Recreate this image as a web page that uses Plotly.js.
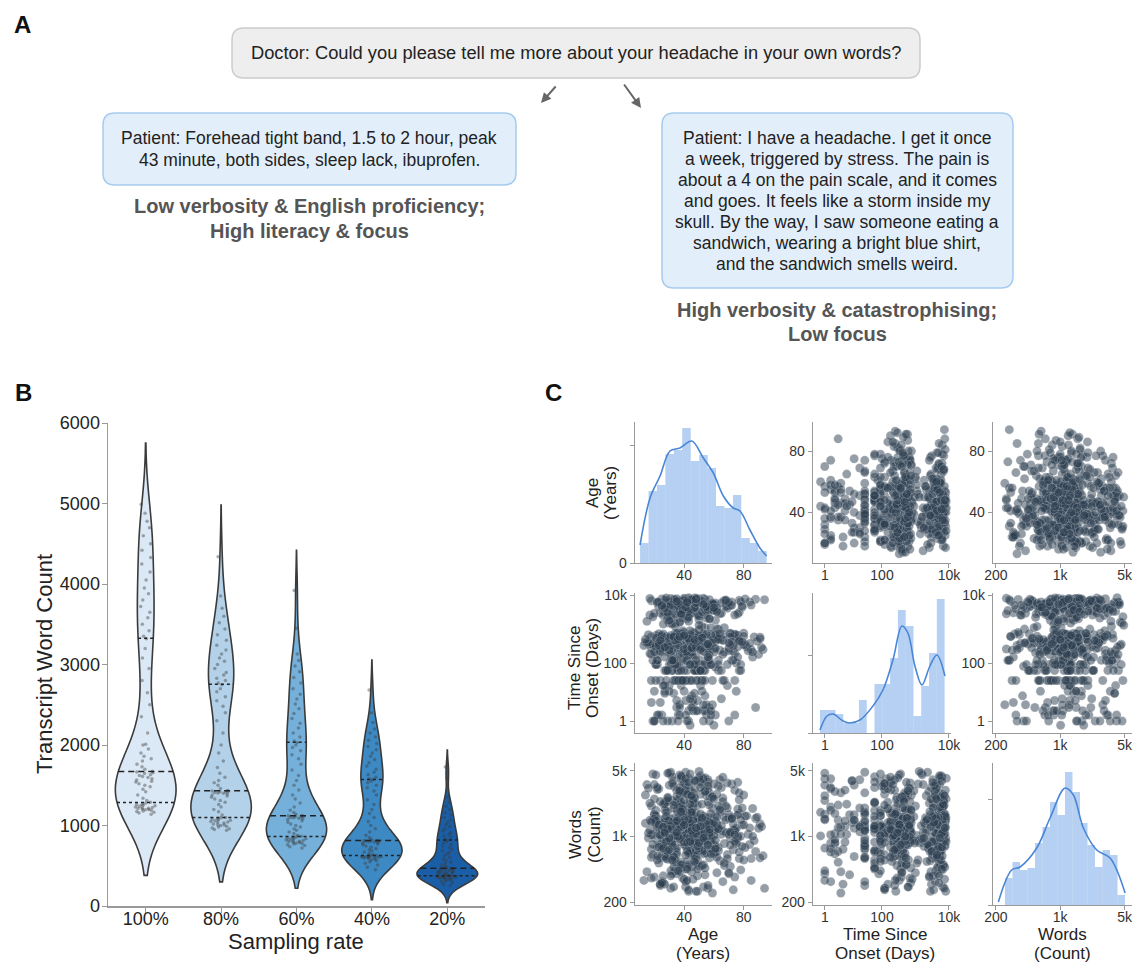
<!DOCTYPE html>
<html><head><meta charset="utf-8">
<script src="https://cdn.plot.ly/plotly-3.0.1.min.js"></script>
<style>html,body{margin:0;padding:0;background:#fff}#chart{width:1134px;height:962px}</style>
</head><body><div id="chart"></div>
<script>
// ================= DATA =================
// Panel B: transcript word counts per sampling rate
const samplingRates = ['100%', '80%', '60%', '40%', '20%'];
const wordsAt100 = [1140,1155,1165,1175,1180,1190,1195,1200,1205,1210,1215,1220,1225,1230,1240,1245,1250,1260,1265,1275,
1290,1310,1340,1380,1420,1450,1480,1500,1520,1540,1550,1565,1580,1595,1610,1620,1630,1645,1655,1665,
1675,1700,1730,1760,1800,1830,1860,1900,1950,2000,2010,2150,2350,2500,2650,2800,2950,3080,3200,3320,
3350,3420,3500,3580,3650,3720,3800,3880,3950,4050,4150,4250,4330,4420,4500,4600,4700,4780,4880,4990];
const wordsAt80 = [940,950,960,970,980,990,1000,1005,1010,1020,1030,1040,1045,1050,1060,1065,1070,1080,1085,1095,
1100,1130,1170,1200,1230,1260,1290,1310,1330,1350,1365,1380,1390,1400,1405,1410,1415,1420,1425,1430,
1435,1460,1500,1530,1560,1600,1650,1720,1800,1900,2000,2150,2300,2400,2480,2550,2600,2660,2700,2750,
2770,2800,2830,2870,2900,2950,3000,3040,3080,3130,3180,3240,3300,3370,3440,3520,3600,3700,3850,4340];
const wordsAt60 = [720,735,750,760,770,775,780,790,795,800,805,810,815,820,830,835,840,845,850,858,
865,880,900,920,940,960,980,1000,1020,1040,1060,1075,1085,1090,1095,1100,1105,1110,1115,1120,
1125,1140,1160,1190,1230,1280,1330,1380,1440,1500,1560,1620,1690,1760,1830,1880,1930,1970,2000,2030,
2050,2100,2150,2210,2270,2330,2390,2450,2510,2570,2630,2700,2770,2840,2910,2980,3050,3130,3450,3920];
const wordsAt40 = [450,480,510,530,550,565,575,585,590,595,600,603,606,609,612,615,617,619,621,623,
628,640,655,670,685,700,715,730,745,760,770,780,788,795,800,803,806,808,810,811,
815,830,850,880,920,960,1000,1050,1100,1150,1200,1260,1320,1380,1430,1470,1500,1530,1550,1570,
1580,1600,1630,1660,1700,1740,1780,1820,1860,1900,1940,1980,2020,2060,2100,2150,2200,2280,2400,2683];
const wordsAt20 = [250,270,290,305,315,322,330,336,341,346,350,354,357,360,363,365,367,369,371,372,
375,380,385,390,395,400,405,410,415,420,425,430,435,440,445,450,455,460,464,467,
470,480,495,510,525,545,565,585,605,625,645,665,685,705,725,745,765,785,800,815,
830,850,870,890,910,935,960,985,1010,1040,1070,1100,1130,1160,1200,1240,1290,1350,1590,1727];
const violinBandwidths = [380, 320, 250, 186, 105];

// Panel C: per-patient values
const patientAge = [34,52,27,71,45,19,38,60,42,31,77,48,23,56,40,65,29,53,36,44,
82,25,50,39,61,33,47,18,74,43,58,30,37,69,21,54,41,88,46,28,
35,63,51,24,43,76,32,57,40,20,49,36,72,44,27,59,38,14,53,30,
46,67,41,22,55,34,79,42,29,60,37,48,17,75,39,52,26,44,64,33,
50,31,86,43,57,23,40,70,35,47,19,62,38,54,28,45,77,32,41,58,
26,49,36,73,42,21,56,30,66,44,34,91,51,25,39,59,47,16,37,53,
43,28,61,35,48,74,32,55,40,20,68,45,29,52,38,84,41,24,57,33,
46,71,30,42,54,22,37,63,49,27,76,40,35,58,18,44,51,31,69,39,
25,47,56,34,80,43,29,60,38,50,21,45,73,36,53,13,41,65,32,48,
57,24,39,44,78,30,52,35,62,42,27,49,87,37,55,19,46,33,70,40,
28,54,36,75,43,22,59,31,47,38,64,26,51,41,93,34,57,45,20,39,
72,33,48,29,56,42,17,61,37,50,25,44,77,35,53,40,30,66,46,23,
38,58,43,81,31,51,27,45,36,63,41,21,55,34,74,48,28,42,15,52,
44,35,60,30,47,70,39,24,56,41,33,78,49,26,43,58,36,85,45,32,
54,40,22,67,37,46,29,53,42,76,34,50,18,61,38,45,27,57,43,90,
41,27,63,35,50,22,45,74,38,56,31,47,19,68,43,53,29,80,36,49,
24,58,40,33,71,46,15,52,37,62,28,44,85,39,55,21,48,34,66,42,
30,51,77,26,45,38,60,18,43,54,35,73,40,27,57,47,92,32,50,23,
44,65,36,49,20,58,41,79,31,53,46,25,69,38,56,34,48,16,61,42,
37,55,28,72,45,33,50,62,24,40,83,47,35,59,29,52,43,76,38,21,
57,32,46,67,39,25,54,44,89,30,48,36,63,42,18,51,34,71,45,27,
49,40,60,23,75,37,53,31,46,14,58,43,35,66,28,50,41,81,33,55,
26,44,38,70,52,20,47,61,36,42,29,57,94,39,48,32,64,45,22,54,
35,68,43,27,56,40,78,31,50,37,19,59,46,33,73,41,25,53,44,86,
62,30,48,39,23,55,42,76,34,51,28,45,67,37,17,58,43,31,49,72,
40,24,54,36,63,47,29,80,42,52,33,21,57,45,69,38,50,26,61,44,
31,59,46,18,74,39,53,35,48,65,27,43,56,37,84,41,22,51,34,60,
47,28,42,71,36,55,20,49,38,64,32,46,77,40,25,57,44,30,52,88,
39,61,33,48,16,54,43,70,29,45,36,58,41,23,66,50,35,79,47,26,
53,37,45,62,30,51,42,24,74,38,56,32,48,91,35,60,27,44,50,40];
const patientOnsetDays = [365,4500,60,730,2900,1,240,5500,450,120,7000,30,600,3300,200,8,4200,540,90,6200,
300,2,5000,700,1825,150,400,6800,30,260,3650,21,620,4800,90,1100,365,7500,5,220,
480,60,5900,3000,180,650,1,4100,330,14,2600,760,120,7300,250,30,5200,420,3,1500,
800,210,6500,90,2100,380,4400,60,550,0.5,3900,290,7900,100,690,30,5600,240,2800,12,
440,6000,150,3500,510,2,4700,270,75,8200,350,1000,21,5300,600,180,3100,60,4300,400,
720,7,6600,230,2400,310,90,5100,470,30,4000,580,120,7700,200,5,3800,365,1600,60,
2700,340,5800,4,660,190,4600,90,800,1,7100,280,3200,430,135,6300,540,30,2000,250,
610,4900,14,390,7400,180,3400,500,60,5700,300,2500,80,700,6,6900,450,220,4100,30,
365,3700,120,5400,760,3,1825,260,6100,410,90,4500,640,2,8000,330,165,2900,520,60,
5000,210,700,0.5,6400,470,1200,30,3600,280,150,7200,590,4,4800,360,90,2200,230,5900,
420,10,3300,680,7600,120,4200,300,60,5500,500,1400,21,6700,250,750,1,3000,380,100,
6200,560,180,4700,320,30,2600,440,5,7800,270,900,60,5200,620,200,3500,470,7,4400,
730,90,6000,350,2300,530,14,5600,240,120,3900,650,2,7000,400,60,4900,290,1700,30,
460,5300,210,3100,780,1,6500,365,150,4300,570,90,2800,310,8300,1095,60,5100,500,260,
3800,430,120,6900,700,3,4600,220,2000,540,30,5800,280,75,3400,390,12,7300,610,180,
5200,300,90,6800,450,2,3600,700,30,240,7900,540,120,4500,370,1,2200,620,60,5700,
280,4100,180,30,760,6300,400,14,3000,520,60,7100,250,900,4700,330,3,1500,680,200,
6600,90,470,3300,210,30,5400,600,1,2600,380,120,8100,560,4,4300,290,60,1900,730,
430,5900,150,60,2900,640,7,4800,320,90,7400,500,21,3500,260,1200,6100,410,2,200,
3900,700,30,5000,360,100,2400,580,6,7600,230,60,4400,480,1,3200,310,150,6700,550,
120,4600,270,30,2100,660,3,5600,440,90,8000,340,1000,4000,180,60,2700,590,10,7200,
610,60,5300,390,14,3400,220,90,6400,500,2,1700,750,30,4900,300,120,7700,460,5,
2500,420,60,6000,280,1,4200,690,30,3100,350,180,7300,570,90,1400,240,4,5800,380,
90,6900,490,21,3700,260,60,5100,630,2,2300,400,150,7500,320,30,4600,720,8,210,
4300,550,120,30,6200,360,1,2800,470,60,8200,290,1100,5500,190,90,3300,650,3,420,
7000,230,60,4800,510,12,3000,340,120,6600,600,30,2000,270,90,5200,450,1,3800,700,
180,5700,410,30,2600,620,5,7800,300,60,4100,530,150,1600,380,2,6300,250,90,3500,
480,60,6800,350,1,4500,210,30,2900,740,120,7200,440,14,5000,310,90,1800,560,4,
3600,270,120,5900,680,30,2200,390,60,7400,500,3,4400,330,180,950,6500,420,90,21,
5300,600,30,3200,240,60,6100,460,2,2700,360,120,7600,520,7,4200,290,90,1300,650];
const patientWords = [1200,680,2300,950,420,1500,3100,820,1100,280,1750,600,1350,4000,900,1050,2600,500,1250,720,
1650,330,1000,3700,780,1400,560,2100,1150,260,880,1300,3300,640,1900,1020,450,1550,2900,860,
1180,700,4400,310,1450,960,2400,590,1280,1700,380,1060,3600,800,1220,2000,530,1380,650,4700,
920,1600,290,1140,2700,740,1320,470,1850,1010,3000,620,1480,840,360,1240,2200,1090,550,3900,
1420,760,1980,270,1160,3200,900,1560,680,2500,1040,410,1300,4200,850,1750,580,1200,3400,990,
320,1270,2100,720,1500,940,3800,600,1130,1820,430,1360,2800,790,1070,250,1640,960,4500,1190,
690,2300,1450,530,1010,3100,870,1250,350,1720,1100,2600,640,1390,4100,820,1170,300,1580,2000,
1080,480,3500,910,1310,770,2200,1210,560,1900,1000,3000,400,1470,730,2400,1140,880,3700,1290,
620,1530,280,1230,2750,830,1410,1040,4300,700,1660,470,1160,2050,950,340,1340,3300,810,1100,
2900,590,1260,1800,440,1020,3600,750,1370,1150,310,2150,900,1490,660,4600,1200,540,1700,980,
1330,390,2450,860,1060,3150,710,1520,1230,500,1950,940,4000,1120,620,1400,2700,830,370,1250,
1610,1030,3850,570,1300,800,2250,1180,420,1440,960,3050,680,1110,290,1780,1270,2550,870,1050,
460,1350,2000,760,4800,1210,610,1590,990,3400,330,1420,850,2300,1160,520,1850,1080,3550,720,
1290,2650,650,1460,930,400,2100,1190,3200,780,1570,1000,260,1360,4150,890,1230,580,1930,1140,
3000,820,1250,490,1680,1070,2400,700,1320,3750,960,1510,360,1170,2050,640,1400,910,2800,1220,
1060,2200,760,1400,480,3300,1120,880,1700,300,1250,2600,640,1500,950,4100,1180,560,1880,1030,
820,1350,3700,600,1090,2050,420,1480,990,2800,710,1230,340,1620,1150,4500,860,1300,2350,540,
1440,930,2900,380,1200,1760,670,1040,3500,800,1380,270,1580,1100,2150,620,1270,4300,900,1510,
720,1840,1160,450,2500,1010,3100,780,1330,1650,350,1210,2000,870,1450,560,3900,1080,680,1290,
2700,1130,580,1560,960,3400,750,1240,310,1720,1050,2250,640,1390,4700,890,1170,1950,500,1340,
1020,400,2450,840,1460,1190,3000,700,1600,930,260,1280,2100,1080,600,3800,1410,810,1700,1140,
1550,870,3600,520,1220,2000,1000,430,1490,2750,740,1100,1880,330,1310,4200,970,1640,610,1260,
790,1370,2300,1050,490,1530,3200,910,1180,700,2550,1420,280,1020,1780,850,4000,1240,560,1600,
1300,2100,660,1120,3450,950,1500,380,1250,1900,820,2650,1070,470,1350,4800,730,1150,2200,1000,
600,1450,1080,2900,770,1210,340,1690,1010,3300,880,1380,520,2050,1160,650,3750,1280,920,1540,
2400,1030,460,1590,1200,3900,690,1330,860,2200,290,1470,1090,1800,580,4400,1140,750,1660,980,
1190,2600,840,1420,370,1960,1060,3100,710,1300,1550,500,2300,940,1230,4100,620,1730,1020,1370,
880,1640,2800,1110,430,1350,3550,790,1260,1920,560,1040,2450,1490,320,1180,4600,960,1570,690,
1410,740,2150,1070,3250,900,1520,410,1200,2700,1000,1750,630,1330,4250,850,1100,2000,540,1260,
960,3050,1150,1620,720,1280,450,2350,1040,1830,810,3650,1230,590,1460,2500,1090,880,4900,1320];

// Diagonal histograms (bin edges in natural units, bar heights as read)
const ageBinEdges = [10.4,16.1,21.7,27.4,33.1,38.7,44.4,50.1,55.8,61.4,67.1,72.8,78.4,84.1,89.8,95.4];
const ageBinHeights = [20,72,78,109,113,135,102,108,95,57,55,68,25,20,12];
const ageKdeX = [10.4,17.1,23.8,30.5,37.2,45.1,52.9,59.6,66.3,73.0,77.5,84.2,90.9,95.4];
const ageKdeY = [18,65,87,112,115,122,105,90,67,55,52,33,15,7];
const onsetBinEdges = [0.44,1.45,3.19,6.14,11.2,19.8,34.5,59.5,102,175,300,512,874,1492,2546,4345,7412];
const onsetBinHeights = [23,23,19,10,10,33,0,49,49,75,123,107,17,47,80,134];
const onsetKdeDays = [0.44,1.33,2.5,6.0,10.2,21.3,53.5,107,213,396,597,967,1562,2703,4364,7568];
const onsetKdeY = [3,17,19,12,10,13,27,43,73,107,100,67,48,67,78,57];
const wordBinEdges = [251,303,366,441,532,642,774,934,1127,1360,1641,1980,2388,2881,3475,4193,5058];
const wordBinHeights = [27,43,35,37,62,78,103,90,133,113,82,60,38,55,50,10];
const wordKdeX = [213,297,366,556,776,1130,1390,1786,2495,3483,5070];
const wordKdeY = [3,35,38,57,87,117,110,77,55,47,12];

// Tick labels
const onsetTickDays = [1, 100, 10000];
const onsetTickText = ['1', '100', '10k'];
const wordTickVals = [200, 1000, 5000];
const wordTickText = ['200', '1k', '5k'];
const ageTickVals = [40, 80];

// ================= HELPERS =================
const W = 1134, H = 962;
const FONT = 'Liberation Sans, Arial, sans-serif';
const px = x => x / W;
const py = y => 1 - y / H;
const tOnset = d => Math.log10(d + 1);

function makeKde(vals, bw) {
  const n = vals.length, f = 1 / (n * bw * Math.sqrt(2 * Math.PI));
  return x => { let s = 0; for (const v of vals) { const u = (x - v) / bw; s += Math.exp(-0.5 * u * u); } return f * s; };
}
function kdeMax(vals, bw, kde) {
  const a = Math.min(...vals) - 2 * bw, b = Math.max(...vals) + 2 * bw;
  const n = Math.ceil((b - a) / (bw / 3)), step = (b - a) / n;
  let m = 0; for (let t = a; t < b + step / 2; t += step) m = Math.max(m, kde(t));
  return m;
}
function quantile(s, p) {
  const idx = p * (s.length - 1), lo = Math.floor(idx), hi = Math.ceil(idx);
  return s[lo] + (s[hi] - s[lo]) * (idx - lo);
}
function roundRect(x0, y0, x1, y1, r) {
  const P = (x, y) => px(x).toFixed(5) + ',' + py(y).toFixed(5);
  return 'M' + P(x0 + r, y0) + ' L' + P(x1 - r, y0) + ' Q' + P(x1, y0) + ' ' + P(x1, y0 + r) +
    ' L' + P(x1, y1 - r) + ' Q' + P(x1, y1) + ' ' + P(x1 - r, y1) +
    ' L' + P(x0 + r, y1) + ' Q' + P(x0, y1) + ' ' + P(x0, y1 - r) +
    ' L' + P(x0, y0 + r) + ' Q' + P(x0, y0) + ' ' + P(x0 + r, y0) + ' Z';
}
const annotations = [];
function txt(x, y, text, size, extra) {
  annotations.push(Object.assign({
    xref: 'paper', yref: 'paper', x: px(x), y: py(y), text: text, showarrow: false,
    xanchor: 'center', yanchor: 'middle', font: { family: FONT, size: size, color: '#222' }
  }, extra || {}));
}

// ================= PANEL A =================
const shapes = [
  { type: 'path', xref: 'paper', yref: 'paper', path: roundRect(232, 28, 920, 78, 12), fillcolor: '#eeeeee', line: { color: '#cccccc', width: 1.5 }, layer: 'below' },
  { type: 'path', xref: 'paper', yref: 'paper', path: roundRect(103, 113, 516, 185, 12), fillcolor: '#e2effb', line: { color: '#a6cbee', width: 1.5 }, layer: 'below' },
  { type: 'path', xref: 'paper', yref: 'paper', path: roundRect(662, 113, 1013, 288, 12), fillcolor: '#e2effb', line: { color: '#a6cbee', width: 1.5 }, layer: 'below' }
];
const bold24 = { family: FONT, size: 24, color: '#111', weight: 'bold' };
txt(22, 25, 'A', 24, { font: bold24 });
txt(23, 392, 'B', 24, { font: bold24 });
txt(553, 392, 'C', 24, { font: bold24 });
txt(576, 53, 'Doctor: Could you please tell me more about your headache in your own words?', 18.3);
txt(309, 138, 'Patient: Forehead tight band, 1.5 to 2 hour, peak', 17.5);
txt(309, 160, '43 minute, both sides, sleep lack, ibuprofen.', 17.5);
const capFont = { family: FONT, size: 20, color: '#555', weight: 'bold' };
txt(309, 206, 'Low verbosity &amp; English proficiency;', 20, { font: capFont });
txt(309, 231, 'High literacy &amp; focus', 20, { font: capFont });
const rightLines = ['Patient: I have a headache. I get it once', 'a week, triggered by stress. The pain is',
  'about a 4 on the pain scale, and it comes', 'and goes. It feels like a storm inside my',
  'skull. By the way, I saw someone eating a', 'sandwich, wearing a bright blue shirt,', 'and the sandwich smells weird.'];
rightLines.forEach((l, i) => txt(837, 138 + i * 21, l, 17.5));
txt(837, 310, 'High verbosity &amp; catastrophising;', 20, { font: capFont });
txt(837, 334, 'Low focus', 20, { font: capFont });
annotations.push({ xref: 'paper', yref: 'paper', x: px(541), y: py(103), ax: 16, ay: -18, text: '', showarrow: true, arrowhead: 2, arrowsize: 1, arrowwidth: 2, arrowcolor: '#666' });
annotations.push({ xref: 'paper', yref: 'paper', x: px(641), y: py(108), ax: -18, ay: -25, text: '', showarrow: true, arrowhead: 2, arrowsize: 1, arrowwidth: 2, arrowcolor: '#666' });

// ================= PANEL B =================
const traces = [];
const violinData = [wordsAt100, wordsAt80, wordsAt60, wordsAt40, wordsAt20];
const violinColors = ['#dbe8f5', '#b3d2ea', '#74b0da', '#3c89c3', '#195ea6'];
const VW = 0.8;
violinData.forEach((vals, i) => {
  traces.push({
    type: 'violin', x0: i, y: vals, xaxis: 'x', yaxis: 'y', width: VW, bandwidth: violinBandwidths[i],
    spanmode: 'soft', fillcolor: violinColors[i], line: { color: '#3b3b3b', width: 1.6 },
    points: 'all', pointpos: 0, jitter: 0.35, marker: { size: 3.5, color: 'rgba(60,60,60,0.42)' },
    box: { visible: false }, meanline: { visible: false }, hoverinfo: 'skip', showlegend: false, name: samplingRates[i]
  });
});
violinData.forEach((vals, i) => {
  const bw = violinBandwidths[i];
  const s = vals.slice().sort((a, b) => a - b);
  const kde = makeKde(s, bw), mx = kdeMax(s, bw, kde);
  [[0.25, '3px,3px'], [0.5, '6px,4px'], [0.75, '3px,3px']].forEach(([p, dash]) => {
    const q = quantile(s, p), hw = (VW / 2) * kde(q) / mx;
    traces.push({ type: 'scatter', mode: 'lines', x: [i - hw, i + hw], y: [q, q], xaxis: 'x', yaxis: 'y',
      line: { color: '#222', width: 1.5, dash: dash }, hoverinfo: 'skip', showlegend: false });
  });
});
txt(44, 664, 'Transcript Word Count', 22, { textangle: -90 });
txt(296, 941, 'Sampling rate', 22);

const axB = { showline: true, linecolor: '#999', linewidth: 1.5, ticks: 'outside', ticklen: 5, tickcolor: '#999',
  tickfont: { family: FONT, size: 18, color: '#222' }, showgrid: false, zeroline: false };
const layout = {
  width: W, height: H, margin: { l: 0, r: 0, t: 0, b: 0 }, paper_bgcolor: '#fff', plot_bgcolor: 'rgba(0,0,0,0)',
  showlegend: false, hovermode: false, font: { family: FONT }, shapes: shapes, annotations: annotations,
  xaxis: Object.assign({}, axB, { domain: [px(108), px(485)], range: [-0.5, 4.5], tickvals: [0, 1, 2, 3, 4], ticktext: samplingRates, anchor: 'y', ticklabelstandoff: -9 }),
  yaxis: Object.assign({}, axB, { domain: [py(906), py(423)], range: [0, 6000], tickvals: [0, 1000, 2000, 3000, 4000, 5000, 6000], anchor: 'x', ticklabelstandoff: -2 })
};

// ================= PANEL C =================
const colPx = [[635, 772], [813, 951], [993, 1132]];
const rowPx = [[422, 563], [593, 733], [763, 905]];
const vars = [patientAge, patientOnsetDays, patientWords];
const axC = { showline: true, linecolor: '#999', linewidth: 1.3, ticks: 'outside', ticklen: 4, tickcolor: '#999',
  tickfont: { family: FONT, size: 14, color: '#333' }, showgrid: false, zeroline: false };
function varAxis(v, forHist) {
  if (v === 0) return { type: 'linear', range: [7, 99], tickvals: ageTickVals, ticktext: ageTickVals.map(String) };
  if (v === 1) return { type: 'linear', range: [-0.05, 4.06], tickvals: onsetTickDays.map(tOnset), ticktext: onsetTickText };
  if (forHist) return { type: 'linear', range: [2.27, 3.78], tickvals: wordTickVals.map(Math.log10), ticktext: wordTickText };
  return { type: 'log', range: [2.27, 3.78], tickvals: wordTickVals, ticktext: wordTickText };
}
function plotVals(v, arr) { return v === 1 ? arr.map(tOnset) : arr; }
const histSpec = [
  { edges: ageBinEdges, h: ageBinHeights, kx: ageKdeX, ky: ageKdeY, top: 141, tick: 118, lab: ['0', ''] },
  { edges: onsetBinEdges.map(tOnset), h: onsetBinHeights, kx: onsetKdeDays.map(tOnset), ky: onsetKdeY, top: 140, tick: 78, lab: ['', ''] },
  { edges: wordBinEdges.map(Math.log10), h: wordBinHeights, kx: wordKdeX.map(Math.log10), ky: wordKdeY, top: 142, tick: 106, lab: ['', ''] }
];
for (let r = 0; r < 3; r++) {
  for (let c = 0; c < 3; c++) {
    const n = 2 + r * 3 + c, xa = 'x' + n, ya = 'y' + n;
    const xAx = Object.assign({}, axC, varAxis(c, r === c), { domain: [px(colPx[c][0]), px(colPx[c][1])], anchor: ya, ticklabelstandoff: -5 });
    let yAx;
    if (r === c) {
      const hs = histSpec[r];
      const centers = [], widths = [];
      for (let k = 0; k < hs.h.length; k++) { centers.push((hs.edges[k] + hs.edges[k + 1]) / 2); widths.push(hs.edges[k + 1] - hs.edges[k]); }
      traces.push({ type: 'bar', x: centers, y: hs.h, width: widths, xaxis: xa, yaxis: ya,
        marker: { color: 'rgba(120,170,232,0.55)', line: { width: 0 } }, hoverinfo: 'skip', showlegend: false });
      traces.push({ type: 'scatter', mode: 'lines', x: hs.kx, y: hs.ky, xaxis: xa, yaxis: ya,
        line: { color: '#4a86d6', width: 1.6, shape: 'spline', smoothing: 1 }, hoverinfo: 'skip', showlegend: false });
      yAx = Object.assign({}, axC, { type: 'linear', range: [0, hs.top], tickvals: [0, hs.tick], ticktext: hs.lab });
    } else {
      traces.push({ type: 'scatter', mode: 'markers', x: plotVals(c, vars[c]), y: plotVals(r, vars[r]), xaxis: xa, yaxis: ya,
        marker: { size: 9, color: 'rgba(44,62,80,0.5)', line: { width: 0.5, color: 'rgba(255,255,255,0.4)' } },
        hoverinfo: 'skip', showlegend: false });
      yAx = Object.assign({}, axC, varAxis(r, false));
    }
    yAx.domain = [py(rowPx[r][1]), py(rowPx[r][0])];
    yAx.anchor = xa;
    layout['xaxis' + n] = xAx;
    layout['yaxis' + n] = yAx;
  }
}
// Row titles (left) and column titles (bottom)
const rowTitles = [[['Age', 592], ['(Years)', 610], 493], [['Time Since', 574], ['Onset (Days)', 592], 668], [['Words', 575], ['(Count)', 594], 835]];
rowTitles.forEach(rt => { txt(rt[0][1], rt[2], rt[0][0], 17, { textangle: -90 }); txt(rt[1][1], rt[2], rt[1][0], 17, { textangle: -90 }); });
const colTitles = [['Age', '(Years)', 703], ['Time Since', 'Onset (Days)', 885], ['Words', '(Count)', 1062]];
colTitles.forEach(ct => { txt(ct[2], 934, ct[0], 17); txt(ct[2], 953, ct[1], 17); });

Plotly.newPlot('chart', traces, layout, { displayModeBar: false, staticPlot: true });
</script>
</body></html>
